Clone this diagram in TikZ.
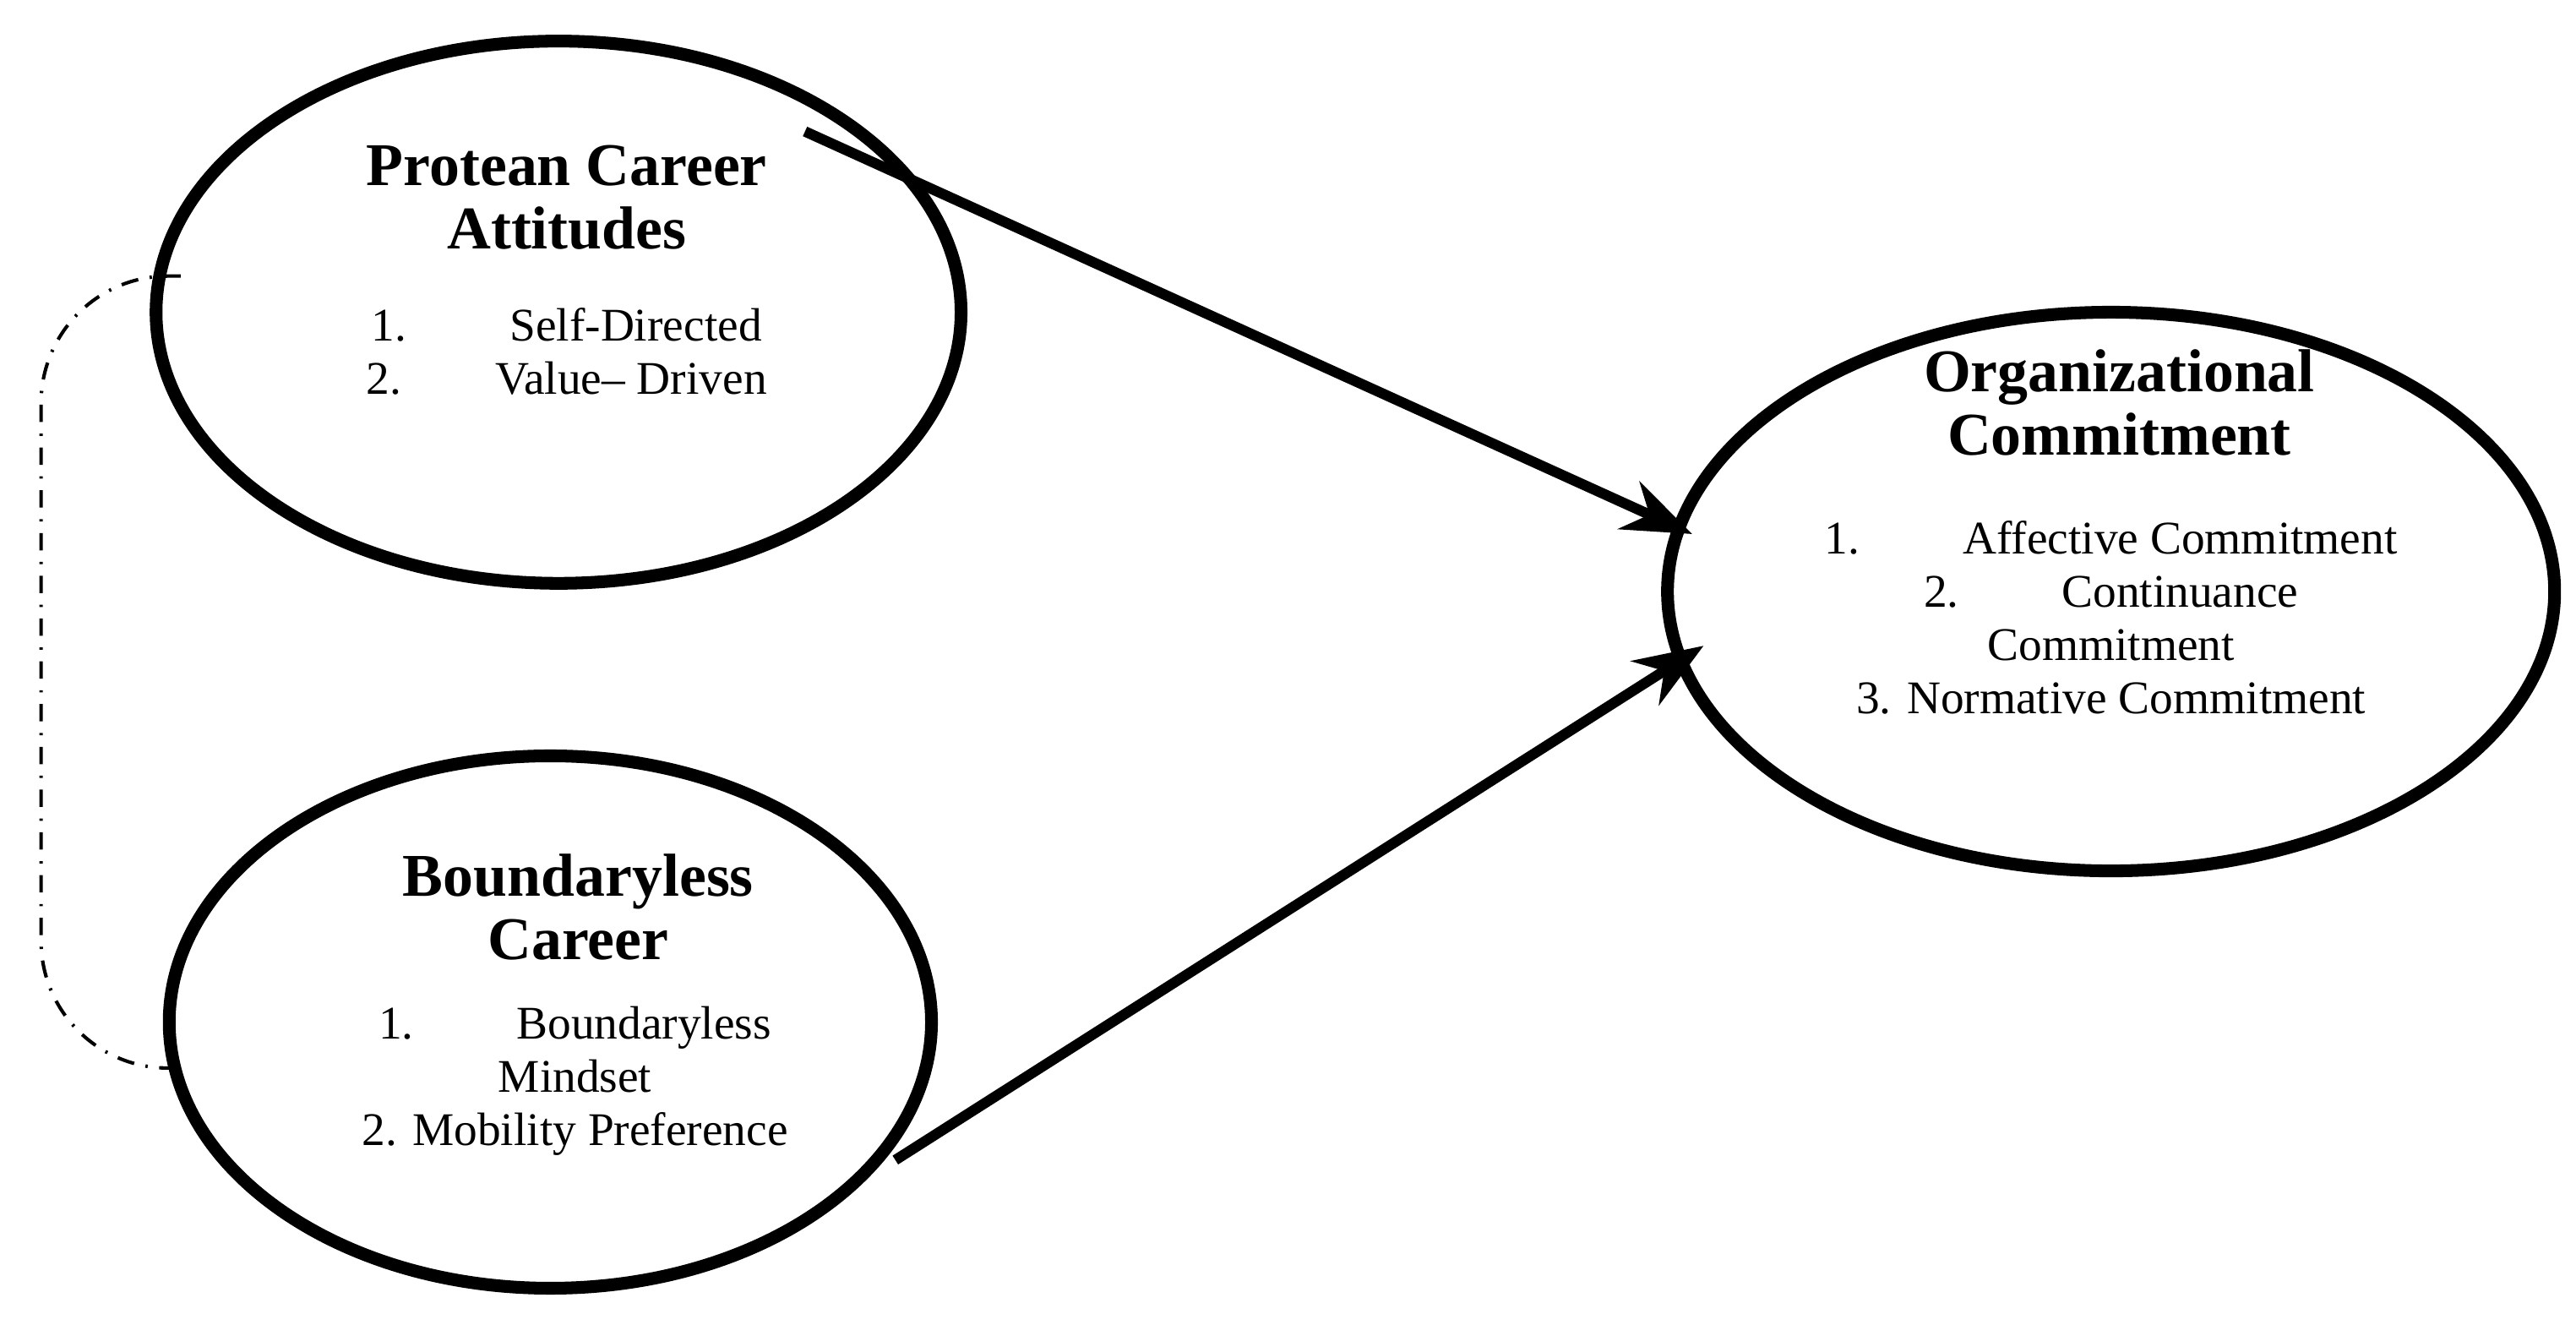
\documentclass[tikz,border=0pt]{standalone}
\usepackage{fontspec}
\setmainfont{Liberation Serif}
\usetikzlibrary{arrows.meta}
\begin{document}
\begin{tikzpicture}[x=0.01cm,y=-0.01cm,
  ttl/.style={font=\fontsize{10.5}{11}\selectfont\bfseries,align=center},
  body/.style={font=\fontsize{8.1}{9.2}\selectfont,align=center},
  conn/.style={line width=1.8pt,-{Stealth[length=12pt,width=9pt]}}]
\useasboundingbox (0,0) rectangle (1568,806);
\draw[line width=2.2pt] (340,190) ellipse [x radius=245,y radius=165];
\draw[line width=2.2pt] (335,622) ellipse [x radius=232,y radius=162];
\draw[line width=2.2pt] (1285,360) ellipse [x radius=270,y radius=170];
\node[ttl] (t1) at (345,120) {Protean Career\\Attitudes};
\node[body] (b1) at (345,214) {1.\hspace{2.2em}Self-Directed\\2.\hspace{2em}Value-- Driven};
\node[ttl] (t2) at (352,552) {Boundaryless\\Career};
\node[body] (b2) at (350,658) {1.\hspace{2.2em}Boundaryless\\Mindset\\2. Mobility Preference};
\node[ttl] (t3) at (1290,245) {Organizational\\Commitment};
\node[body] (b3) at (1285,376) {1.\hspace{2.2em}Affective Commitment\\2.\hspace{2.2em}Continuance\\Commitment\\3. Normative Commitment};
\coordinate (a1s) at (490,80);
\coordinate (a1e) at (1030,325);
\coordinate (a2s) at (545,706);
\coordinate (a2e) at (1037,393);
\draw[conn] (a1s) -- (a1e);
\draw[conn] (a2s) -- (a2e);
\coordinate (d1) at (110,168);
\coordinate (d2) at (110,650);
\draw[dash dot,line width=0.6pt,rounded corners=22pt] (d1) -- (25,168) -- (25,650) -- (d2);
\end{tikzpicture}
\end{document}
